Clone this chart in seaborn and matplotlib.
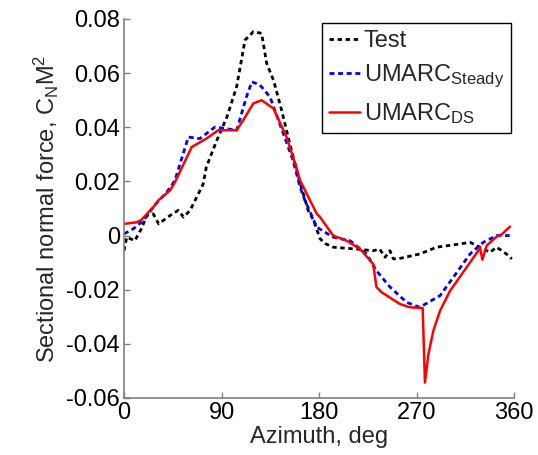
import numpy as np
import pandas as pd
import matplotlib
matplotlib.use("Agg")
import matplotlib.pyplot as plt
import seaborn as sns

# ---- data ----
test_az = [0, 2.5, 10, 16, 21, 27, 32, 42.5, 50, 55, 61, 68.6, 73, 76, 85.5, 95, 104, 111.7,
           119.4, 127, 131.7, 138, 145.5, 153, 162.5, 170, 175, 181, 186, 193, 215,
           230, 236, 241, 245.5, 248.6, 253, 273, 288.6, 310, 319.4, 328.6, 337.8,
           344, 353, 358]
test_cn = [-0.0056, -0.0006, -0.0019, 0.0025, 0.0074, 0.008, 0.0043, 0.0074, 0.0093,
           0.0068, 0.0093, 0.0154, 0.019, 0.0253, 0.035, 0.0438, 0.055, 0.0722, 0.0753,
           0.0747, 0.0636, 0.0574, 0.0463, 0.034, 0.0195, 0.0093, 0.0056, -0.0012,
           -0.003, -0.0043, -0.005, -0.0056, -0.005, -0.008, -0.0056, -0.0086, -0.0086,
           -0.0068, -0.0043, -0.0031, -0.0025, -0.0043, -0.0062, -0.0043, -0.0068, -0.0086]

steady_az = [0, 8.6, 18, 27, 30, 39.4, 44, 47, 59.4, 70, 84, 104, 113, 118, 125.5,
             134.8, 147, 156, 162.5, 167, 178, 193, 208.6, 224, 233, 245.5, 261, 273,
             291.7, 304, 319.4, 331.7, 344, 356]
steady_cn = [0.0006, 0.0025, 0.0056, 0.0105, 0.012, 0.016, 0.0185, 0.0204, 0.0364,
             0.0358, 0.0401, 0.0389, 0.0512, 0.0568, 0.0556, 0.0512, 0.0377, 0.0278,
             0.0179, 0.013, 0.0031, -0.0006, -0.0019, -0.0068, -0.013, -0.019, -0.0247,
             -0.0265, -0.0222, -0.0154, -0.0068, -0.0025, 0.0, 0.0]

ds_az = [0, 11.7, 16, 27, 31.7, 42.5, 47, 62.5, 76, 87, 104, 110, 119.4, 127, 138,
         150, 159, 162.5, 171.7, 178, 181, 193, 205.5, 218, 230, 233, 238, 254.8, 264,
         275.7, 277.8, 281, 285.5, 291.7, 301, 313, 327, 328.6, 330.8, 334.8, 344,
         348.6, 356.3]
ds_cn = [0.0043, 0.0049, 0.0058, 0.0105, 0.013, 0.0167, 0.0197, 0.0327, 0.0358,
         0.0389, 0.0389, 0.0426, 0.0488, 0.05, 0.0469, 0.0364, 0.0253, 0.0204, 0.013,
         0.008, 0.0068, 0.0, -0.0019, -0.005, -0.0105, -0.019, -0.021, -0.0253,
         -0.0265, -0.0268, -0.0543, -0.0438, -0.0352, -0.0278, -0.0204, -0.0136,
         -0.0056, -0.0043, -0.0089, -0.0037, -0.0004, 0.0004, 0.0033]

x_ticks = [0, 90, 180, 270, 360]
y_ticks = [-0.06, -0.04, -0.02, 0, 0.02, 0.04, 0.06, 0.08]
y_tick_labels = ["-0.06", "-0.04", "-0.02", "0", "0.02", "0.04", "0.06", "0.08"]

sns.set_theme(style="white")
plt.rcParams["font.family"] = ["Liberation Sans", "DejaVu Sans"]
plt.rcParams["mathtext.fontset"] = "custom"
plt.rcParams["mathtext.rm"] = "Liberation Sans"
plt.rcParams["mathtext.it"] = "Liberation Sans"
plt.rcParams["mathtext.bf"] = "Liberation Sans:bold"

fs = 17
fig = plt.figure(figsize=(5.38, 4.55), dpi=100)
ax = fig.add_axes([0.2305, 0.1253, 0.7249, 0.8330])

sns.lineplot(x=test_az, y=test_cn, ax=ax, color="black", lw=2.0,
             linestyle=(0, (1.6, 1.3)), estimator=None, sort=False, label="Test")
sns.lineplot(x=steady_az, y=steady_cn, ax=ax, color="#0000ff", lw=2.0,
             linestyle=(0, (1.8, 1.3)), estimator=None, sort=False,
             label=r"UMARC$_{\mathrm{Steady}}$")
sns.lineplot(x=ds_az, y=ds_cn, ax=ax, color="#ff0000", lw=1.8,
             estimator=None, sort=False, label=r"UMARC$_{\mathrm{DS}}$")

ax.set_xlim(0, 360)
ax.set_ylim(-0.06, 0.08)
ax.set_xticks(x_ticks)
ax.set_xticklabels([str(t) for t in x_ticks])
ax.set_yticks(y_ticks)
ax.set_yticklabels(y_tick_labels)

for s in ["top", "right"]:
    ax.spines[s].set_visible(False)
for s in ["left", "bottom"]:
    ax.spines[s].set_color("#808080")
    ax.spines[s].set_linewidth(1.2)

ax.tick_params(axis="both", direction="in", length=4, width=1, color="#808080",
               labelsize=fs, labelcolor="black", pad=3)
ax.tick_params(axis="both", which="both", left=True, bottom=True)

ax.set_xlabel("Azimuth, deg", fontsize=fs, labelpad=1)
ax.set_ylabel(r"Sectional normal force, C$_{\mathrm{N}}$M$^{\mathrm{2}}$", fontsize=fs, labelpad=4)

leg = ax.legend(loc="upper right", bbox_to_anchor=(0.992, 0.989), fontsize=fs,
                frameon=True, fancybox=False, edgecolor="black", framealpha=1,
                borderaxespad=0, handlelength=1.3, handletextpad=0.15,
                borderpad=0.3, labelspacing=0.45)
leg.get_frame().set_linewidth(1.0)

fig.savefig("out.png", dpi=100)
